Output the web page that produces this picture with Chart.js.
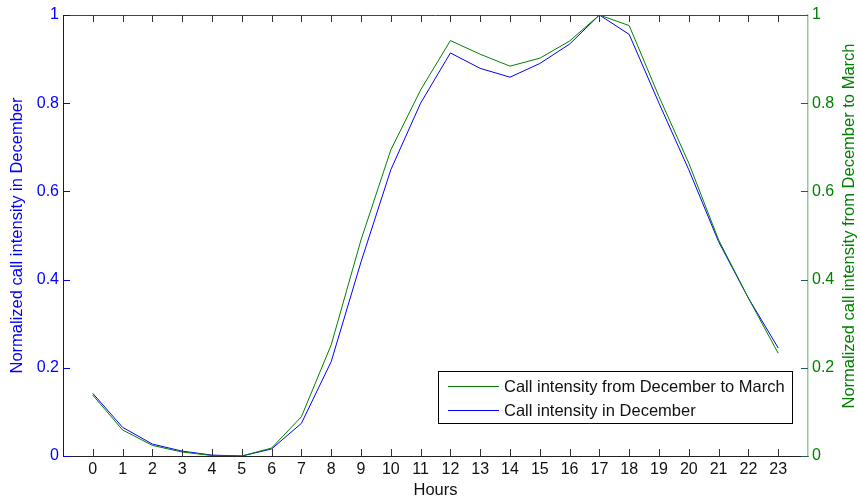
<!DOCTYPE html>
<html>
<head>
<meta charset="utf-8">
<script src="https://cdn.jsdelivr.net/npm/chart.js@4"></script>
<style>
  body { margin: 0; background: #fff; }
  canvas { display: block; }
</style>
</head>
<body>
<canvas id="chart" width="860" height="500"></canvas>
<script>
// hours of the day
const hours = [0, 1, 2, 3, 4, 5, 6, 7, 8, 9, 10, 11, 12, 13, 14, 15, 16, 17, 18, 19, 20, 21, 22, 23];
// normalized call intensity, December only (left axis)
const december = [0.142, 0.065, 0.027, 0.011, 0.002, 0.0, 0.016, 0.074, 0.214, 0.44, 0.649, 0.80,
                  0.914, 0.879, 0.859, 0.890, 0.934, 1.0, 0.956, 0.80, 0.649, 0.486, 0.358, 0.245];
// normalized call intensity, December to March (right axis)
const decToMarch = [0.138, 0.059, 0.024, 0.009, 0.001, 0.0, 0.018, 0.089, 0.252, 0.49, 0.694, 0.83,
                    0.942, 0.911, 0.884, 0.902, 0.941, 1.0, 0.976, 0.815, 0.664, 0.49, 0.358, 0.233];
const yTicks = [0, 0.2, 0.4, 0.6, 0.8, 1];

const BLUE = '#0000ff';
const GREEN = '#008000';
const FAMILY = '"Liberation Sans", Arial, sans-serif';
const TICK_FONT = { family: FAMILY, size: 16 };
const TITLE_FONT = { family: FAMILY, size: 16.5 };

// inward tick marks, top frame line, right title and the boxed legend
const decorations = {
  id: 'decorations',
  afterDatasetsDraw(chart) {
    const { ctx, chartArea: a, scales } = chart;
    const x = scales.x, yl = scales.y, yr = scales.y1;
    ctx.save();
    ctx.lineWidth = 1;

    // top frame
    ctx.strokeStyle = '#444';
    ctx.beginPath();
    ctx.moveTo(a.left, a.top + 0.5);
    ctx.lineTo(a.right, a.top + 0.5);
    ctx.stroke();

    // x ticks (bottom + top)
    ctx.strokeStyle = '#333';
    ctx.beginPath();
    hours.forEach(h => {
      const px = Math.round(x.getPixelForValue(h)) + 0.5;
      ctx.moveTo(px, a.bottom); ctx.lineTo(px, a.bottom - 7);
      ctx.moveTo(px, a.top); ctx.lineTo(px, a.top + 7);
    });
    ctx.stroke();

    // left y ticks
    ctx.strokeStyle = BLUE;
    ctx.beginPath();
    yTicks.forEach(v => {
      const py = Math.round(yl.getPixelForValue(v)) + 0.5;
      ctx.moveTo(a.left, py); ctx.lineTo(a.left + 7, py);
    });
    ctx.stroke();

    // right y ticks
    ctx.strokeStyle = '#1f5f4f';
    ctx.beginPath();
    yTicks.forEach(v => {
      const py = Math.round(yr.getPixelForValue(v)) + 0.5;
      ctx.moveTo(a.right, py); ctx.lineTo(a.right - 7, py);
    });
    ctx.stroke();

    // right axis title, reading upward
    ctx.fillStyle = GREEN;
    ctx.font = TITLE_FONT.size + 'px ' + FAMILY;
    ctx.textAlign = 'center';
    ctx.textBaseline = 'middle';
    ctx.translate(849, 226);
    ctx.rotate(-Math.PI / 2);
    ctx.fillText('Normalized call intensity from December to March', 0, 0);
    ctx.setTransform(1, 0, 0, 1, 0, 0);

    // legend
    const bx = 438.5, by = 371.5, bw = 354, bh = 52;
    ctx.fillStyle = '#fff';
    ctx.fillRect(bx, by, bw, bh);
    ctx.strokeStyle = '#000';
    ctx.strokeRect(bx, by, bw, bh);
    const entries = [chart.data.datasets[0], chart.data.datasets[1]];
    entries.forEach((ds, i) => {
      const ly = 386 + i * 24;
      ctx.strokeStyle = ds.borderColor;
      ctx.beginPath();
      ctx.moveTo(448, ly + 0.5); ctx.lineTo(499, ly + 0.5);
      ctx.stroke();
      ctx.fillStyle = '#111';
      ctx.textAlign = 'left';
      ctx.textBaseline = 'middle';
      ctx.fillText(ds.label, 504, ly + 1);
    });
    ctx.restore();
  }
};

new Chart(document.getElementById('chart'), {
  type: 'line',
  data: {
    labels: hours,
    datasets: [
      {
        label: 'Call intensity from December to March',
        data: decToMarch,
        yAxisID: 'y1',
        borderColor: GREEN,
        borderWidth: 1,
        pointRadius: 0,
        tension: 0,
        fill: false
      },
      {
        label: 'Call intensity in December',
        data: december,
        yAxisID: 'y',
        borderColor: BLUE,
        borderWidth: 1,
        pointRadius: 0,
        tension: 0,
        fill: false
      }
    ]
  },
  options: {
    responsive: false,
    animation: false,
    devicePixelRatio: 1,
    layout: { padding: { top: 15, left: 0, right: 0, bottom: 0 } },
    plugins: {
      legend: { display: false },
      tooltip: { enabled: false }
    },
    scales: {
      x: {
        type: 'linear',
        min: -1,
        max: 24,
        afterBuildTicks: s => { s.ticks = hours.map(h => ({ value: h })); },
        afterFit: s => { s.height = 44; },
        grid: { display: false, drawTicks: false },
        border: { color: '#222', width: 1 },
        ticks: {
          color: '#111',
          font: TICK_FONT,
          padding: 4,
          maxRotation: 0,
          autoSkip: false,
          callback: v => String(v)
        },
        title: { display: true, text: 'Hours', color: '#111', font: TITLE_FONT, padding: { top: 0, bottom: 0 } }
      },
      y: {
        position: 'left',
        min: 0,
        max: 1,
        afterBuildTicks: s => { s.ticks = yTicks.map(v => ({ value: v })); },
        afterFit: s => { s.width = 63; },
        grid: { display: false, drawTicks: false },
        border: { color: BLUE, width: 1 },
        ticks: { color: BLUE, font: TICK_FONT, padding: 4, callback: v => String(+v.toFixed(1)) },
        title: { display: true, text: 'Normalized call intensity in December', color: BLUE, font: TITLE_FONT, padding: { top: 8, bottom: 0 } }
      },
      y1: {
        position: 'right',
        min: 0,
        max: 1,
        afterBuildTicks: s => { s.ticks = yTicks.map(v => ({ value: v })); },
        afterFit: s => { s.width = 52; },
        grid: { display: false, drawTicks: false },
        border: { color: '#8fcf8f', width: 1.5 },
        ticks: { color: GREEN, font: TICK_FONT, padding: 4, callback: v => String(+v.toFixed(1)) }
      }
    }
  },
  plugins: [decorations]
});
</script>
</body>
</html>
